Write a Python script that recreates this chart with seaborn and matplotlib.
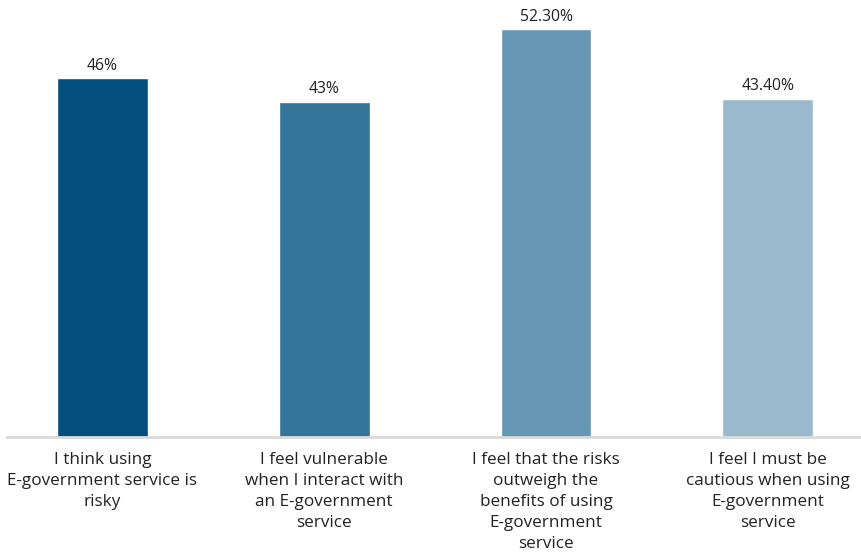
import matplotlib
matplotlib.use("Agg")
import matplotlib.pyplot as plt
import seaborn as sns
import pandas as pd

categories = [
    "I think using\nE-government service is\nrisky",
    "I feel vulnerable\nwhen I interact with\nan E-government\nservice",
    "I feel that the risks\noutweigh the\nbenefits of using\nE-government\nservice",
    "I feel I must be\ncautious when using\nE-government\nservice",
]
values = [46.0, 43.0, 52.3, 43.4]
value_labels = ["46%", "43%", "52.30%", "43.40%"]
colors = ["#034f7d", "#34739a", "#6797b5", "#9ab9cd"]

sns.set_theme(style="white")
plt.rcParams["font.family"] = ["Open Sans", "DejaVu Sans"]

df = pd.DataFrame({"cat": categories, "val": values})

fig = plt.figure(figsize=(8.61, 5.55), dpi=100)
ax = fig.add_axes([7/861, 1 - 437/555, 854/861, 430/555])

sns.barplot(data=df, x="cat", y="val", hue="cat", palette=colors,
            width=0.41, legend=False, ax=ax, saturation=1)

for i, (v, lab) in enumerate(zip(values, value_labels)):
    ax.text(i, v + 0.6, lab, ha="center", va="bottom", fontsize=11.3, color="#222222")

ax.set_xlim(-0.43, 3.42)
ax.set_ylim(0, 428/7.76)
ax.set_xlabel("")
ax.set_ylabel("")
ax.set_yticks([])
for s in ["top", "right", "left"]:
    ax.spines[s].set_visible(False)
ax.spines["bottom"].set_color("#d9d9d9")
ax.spines["bottom"].set_linewidth(2)
ax.tick_params(axis="x", length=0, pad=11, labelsize=12.3, colors="#222222")
for t in ax.get_xticklabels():
    t.set_linespacing(1.42)

fig.savefig("out.png", dpi=100)
